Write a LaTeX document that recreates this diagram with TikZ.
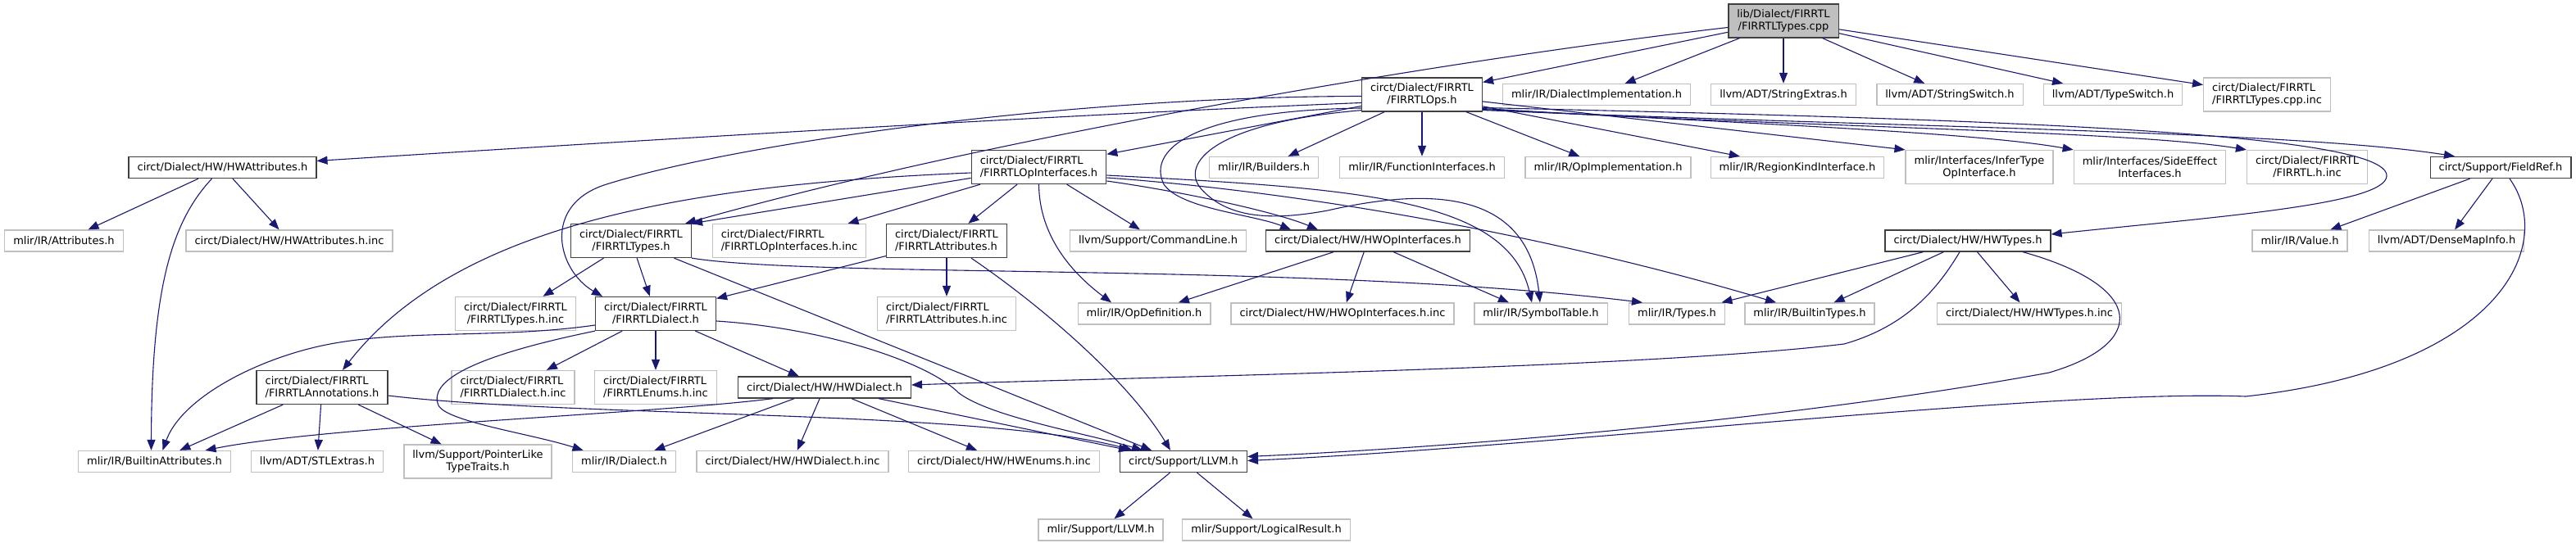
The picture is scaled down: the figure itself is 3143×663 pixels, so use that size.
\documentclass[tikz,border=0pt]{standalone}
\usepackage{fontspec}
\setmainfont{DejaVu Sans}
\usetikzlibrary{arrows.meta}
\definecolor{edgecol}{HTML}{191970}
\definecolor{graybd}{HTML}{BFBFBF}
\definecolor{darkbd}{HTML}{404040}
\definecolor{rootfill}{HTML}{BFBFBF}
\begin{document}
\begin{tikzpicture}[x=1pt,y=-1pt,
  box/.style={rectangle, draw, fill=white, line width=1.3pt, inner xsep=10.5pt, inner ysep=2pt,
    minimum height=26pt, font=\fontsize{13}{15}\selectfont, text=black},
  gnode/.style={box, draw=graybd},
  bnode/.style={box, draw=darkbd},
  rootnode/.style={box, draw=darkbd, fill=rootfill},
  two/.style={minimum height=41pt, align=center},
  twol/.style={minimum height=41pt, align=left},
  dep/.style={draw=edgecol, line width=1.1pt, -{Triangle[length=13pt,width=10pt]}}]
\useasboundingbox[fill=white] (0,0) rectangle (3143,663);

% row 0
\node[rootnode,two] (root) at (2176,25.5) {lib/Dialect/FIRRTL\\/FIRRTLTypes.cpp};
% row 1
\node[bnode,two] (ops) at (1735,115.5) {circt/Dialect/FIRRTL\\/FIRRTLOps.h};
\node[gnode] (dimpl) at (1948,115.5) {mlir/IR/DialectImplementation.h};
\node[gnode] (strext) at (2176,115.5) {llvm/ADT/StringExtras.h};
\node[gnode] (strsw) at (2379,115.5) {llvm/ADT/StringSwitch.h};
\node[gnode] (tysw) at (2578,115.5) {llvm/ADT/TypeSwitch.h};
\node[gnode,twol] (cppinc) at (2766,115.5) {circt/Dialect/FIRRTL\\/FIRRTLTypes.cpp.inc};
% row 2
\node[bnode] (hwattr) at (271.5,204.5) {circt/Dialect/HW/HWAttributes.h};
\node[bnode,twol] (opif) at (1267.5,204) {circt/Dialect/FIRRTL\\/FIRRTLOpInterfaces.h};
\node[gnode] (builders) at (1542,204.5) {mlir/IR/Builders.h};
\node[gnode] (funcif) at (1735,204.5) {mlir/IR/FunctionInterfaces.h};
\node[gnode] (opimpl) at (1962,204.5) {mlir/IR/OpImplementation.h};
\node[gnode] (regkind) at (2193,204.5) {mlir/IR/RegionKindInterface.h};
\node[gnode,two] (infer) at (2415,204) {mlir/Interfaces/InferType\\OpInterface.h};
\node[gnode,two] (sideeff) at (2623,204) {mlir/Interfaces/SideEffect\\Interfaces.h};
\node[gnode,two] (firrtlinc) at (2815,204) {circt/Dialect/FIRRTL\\/FIRRTL.h.inc};
\node[bnode] (fieldref) at (3051,204.5) {circt/Support/FieldRef.h};
% row 3
\node[gnode] (attrs) at (78,294) {mlir/IR/Attributes.h};
\node[gnode] (hwattrinc) at (353,294) {circt/Dialect/HW/HWAttributes.h.inc};
\node[bnode,two] (ftypes) at (770,294) {circt/Dialect/FIRRTL\\/FIRRTLTypes.h};
\node[gnode,twol] (opifinc) at (963,294) {circt/Dialect/FIRRTL\\/FIRRTLOpInterfaces.h.inc};
\node[bnode,twol] (fattrs) at (1155,294) {circt/Dialect/FIRRTL\\/FIRRTLAttributes.h};
\node[gnode] (cmdline) at (1413,294) {llvm/Support/CommandLine.h};
\node[bnode] (hwopif) at (1669,294) {circt/Dialect/HW/HWOpInterfaces.h};
\node[bnode] (hwtypes) at (2401,294) {circt/Dialect/HW/HWTypes.h};
\node[gnode] (value) at (2806,294) {mlir/IR/Value.h};
\node[gnode] (densemap) at (2985,294) {llvm/ADT/DenseMapInfo.h};
% row 4
\node[gnode,two] (ftypesinc) at (629,383) {circt/Dialect/FIRRTL\\/FIRRTLTypes.h.inc};
\node[bnode,two] (fdialect) at (800,383) {circt/Dialect/FIRRTL\\/FIRRTLDialect.h};
\node[gnode,twol] (fattrsinc) at (1155,383) {circt/Dialect/FIRRTL\\/FIRRTLAttributes.h.inc};
\node[gnode] (opdef) at (1396,383) {mlir/IR/OpDefinition.h};
\node[gnode] (hwopifinc) at (1638,383) {circt/Dialect/HW/HWOpInterfaces.h.inc};
\node[gnode] (symtab) at (1880,383) {mlir/IR/SymbolTable.h};
\node[gnode] (types) at (2046,383) {mlir/IR/Types.h};
\node[gnode] (btypes) at (2208,383) {mlir/IR/BuiltinTypes.h};
\node[gnode] (hwtypesinc) at (2476,383) {circt/Dialect/HW/HWTypes.h.inc};
% row 5
\node[bnode,twol] (annot) at (393,473) {circt/Dialect/FIRRTL\\/FIRRTLAnnotations.h};
\node[gnode,twol] (fdialinc) at (626,473) {circt/Dialect/FIRRTL\\/FIRRTLDialect.h.inc};
\node[gnode,twol] (fenums) at (800,473) {circt/Dialect/FIRRTL\\/FIRRTLEnums.h.inc};
\node[bnode] (hwdialect) at (1006,473) {circt/Dialect/HW/HWDialect.h};
% row 6
\node[gnode] (battrs) at (188.5,563.5) {mlir/IR/BuiltinAttributes.h};
\node[gnode] (stl) at (387,563.5) {llvm/ADT/STLExtras.h};
\node[gnode,two] (ptr) at (583,563.5) {llvm/Support/PointerLike\\TypeTraits.h};
\node[gnode] (dialect) at (761.5,563.5) {mlir/IR/Dialect.h};
\node[gnode] (hwdialinc) at (967,563.5) {circt/Dialect/HW/HWDialect.h.inc};
\node[gnode] (hwenums) at (1225,563.5) {circt/Dialect/HW/HWEnums.h.inc};
\node[bnode] (llvm) at (1444,563.5) {circt/Support/LLVM.h};
% row 7
\node[gnode] (mllvm) at (1343,647) {mlir/Support/LLVM.h};
\node[gnode] (logres) at (1545,647) {mlir/Support/LogicalResult.h};

% ---- edges from root
\draw[dep] (root) -- (ops);
\draw[dep] (root) -- (dimpl);
\draw[dep] (root) -- (strext);
\draw[dep] (root) -- (strsw);
\draw[dep] (root) -- (tysw);
\draw[dep] (root) -- (cppinc);
\draw[dep] ([yshift=-8pt]root.west) .. controls (1750,75) and (1200,170) .. ([xshift=-8pt]ftypes.north east);

% ---- edges from FIRRTLOps
\draw[dep] ([yshift=-10pt]ops.west) .. controls (1300,140) and (800,170) .. ([yshift=8pt]hwattr.east);
\draw[dep] ([yshift=-2pt]ops.west) .. controls (1300,118) and (900,175) .. (740,225)
   .. controls (660,250) and (680,330) .. ([xshift=-65pt]fdialect.north);
\draw[dep] (ops) -- (opif);
\draw[dep] (ops) -- (builders);
\draw[dep] (ops) -- (funcif);
\draw[dep] (ops) -- (opimpl);
\draw[dep] (ops) -- (regkind);
\draw[dep] (ops) -- (infer.north west);
\draw[dep] ([yshift=-17pt]ops.east) .. controls (2100,150) and (2400,160) .. (sideeff.north west);
\draw[dep] ([yshift=-18pt]ops.east) .. controls (2200,155) and (2600,160) .. (firrtlinc.north west);
\draw[dep] ([yshift=-19pt]ops.east) .. controls (2300,155) and (2800,160) .. ([xshift=-56pt]fieldref.north);
\draw[dep] ([yshift=-16pt]ops.east) .. controls (2400,145) and (2915,160) .. (2912,215)
   .. controls (2910,250) and (2700,265) .. ([yshift=8pt]hwtypes.east);
\draw[dep] ([yshift=-16.5pt]ops.west) .. controls (1450,135) and (1400,185) .. (1420,225)
   .. controls (1440,255) and (1530,262) .. ([xshift=-94pt]hwopif.north);
\draw[dep] ([yshift=2pt]ops.south west) .. controls (1480,150) and (1440,200) .. (1465,230)
   .. controls (1500,270) and (1560,268) .. (1620,257)
   .. controls (1760,225) and (1865,240) .. ([xshift=-1pt]symtab.north);

% ---- edges from FIRRTLOpInterfaces
\draw[dep] ([yshift=-7pt]opif.west) .. controls (850,225) and (560,270) .. ([xshift=25pt]annot.north);
\draw[dep] (opif) -- (ftypes.north east);
\draw[dep] (opif) -- (opifinc);
\draw[dep] (opif) -- (fattrs);
\draw[dep] (opif.south) .. controls (1268,290) and (1310,335) .. ([xshift=-40pt]opdef.north);
\draw[dep] (opif) -- (cmdline);
\draw[dep] ([yshift=-10pt]opif.east) .. controls (1650,230) and (1840,240) .. ([xshift=-11pt]symtab.north);
\draw[dep] ([yshift=-13pt]opif.east) .. controls (1600,235) and (1900,290) .. ([xshift=-41pt]btypes.north);
\draw[dep] ([yshift=-17pt]opif.east) .. controls (1450,235) and (1560,260) .. ([xshift=-61pt]hwopif.north);

% ---- HWAttributes
\draw[dep] (hwattr) -- (attrs);
\draw[dep] (hwattr) -- (hwattrinc);
\draw[dep] ([xshift=-13pt]hwattr.south) .. controls (210,270) and (185,350) .. ([xshift=-4pt]battrs.north);

% ---- FIRRTLTypes.h
\draw[dep] (ftypes) -- (ftypesinc);
\draw[dep] (ftypes) -- (fdialect);
\draw[dep] (ftypes.south east) .. controls (1000,340) and (1600,320) .. ([xshift=-42pt]types.north);
\draw[dep] (ftypes) -- ([xshift=-39pt]llvm.north);

% ---- FIRRTLAttributes.h
\draw[dep] (fattrs) -- (fdialect);
\draw[dep] (fattrs) -- (fattrsinc);
\draw[dep] ([xshift=30pt]fattrs.south) .. controls (1280,380) and (1380,470) .. ([xshift=-16pt]llvm.north);

% ---- FIRRTLDialect.h
\draw[dep] ([yshift=-14pt]fdialect.west) .. controls (600,415) and (480,400) .. (380,425)
   .. controls (300,445) and (220,490) .. ([xshift=10pt]battrs.north);
\draw[dep] (fdialect.south west) .. controls (600,430) and (520,460) .. (535,495)
   .. controls (545,515) and (650,530) .. ([xshift=-50pt]dialect.north);
\draw[dep] (fdialect) -- (fdialinc);
\draw[dep] (fdialect) -- (fenums);
\draw[dep] (fdialect) -- (hwdialect);
\draw[dep] ([yshift=-9pt]fdialect.east) .. controls (1000,400) and (1130,440) .. (1170,480)
   .. controls (1210,510) and (1330,530) .. ([xshift=-50pt]llvm.north);

% ---- HWDialect.h
\draw[dep] ([xshift=43pt]hwdialect.south west) .. controls (800,505) and (400,520) .. ([xshift=62pt]battrs.north);
\draw[dep] (hwdialect) -- (dialect);
\draw[dep] (hwdialect) -- (hwdialinc);
\draw[dep] (hwdialect) -- (hwenums);
\draw[dep] (hwdialect) -- (llvm);

% ---- FIRRTLAnnotations.h
\draw[dep] (annot) -- (battrs);
\draw[dep] (annot) -- (stl);
\draw[dep] (annot) -- (ptr);
\draw[dep] ([yshift=-10pt]annot.east) .. controls (700,510) and (1200,500) .. ([xshift=-62pt]llvm.north);

% ---- HWTypes.h
\draw[dep] (hwtypes) -- (types);
\draw[dep] (hwtypes) -- (btypes);
\draw[dep] (hwtypes) -- (hwtypesinc);
\draw[dep] ([xshift=-10pt]hwtypes.south) .. controls (2360,360) and (2320,400) .. (2250,420)
   .. controls (2000,450) and (1400,460) .. ([yshift=3pt]hwdialect.east);
\draw[dep] ([xshift=67pt]hwtypes.south) .. controls (2620,350) and (2620,420) .. (2500,455)
   .. controls (2200,510) and (1800,545) .. ([yshift=6pt]llvm.east);

% ---- FieldRef.h
\draw[dep] (fieldref) -- (value);
\draw[dep] (fieldref) -- (densemap);
\draw[dep] ([xshift=11pt]fieldref.south) .. controls (3120,300) and (3050,450) .. (2740,484)
   .. controls (2500,475) and (1900,545) .. ([yshift=1pt]llvm.east);

% ---- HWOpInterfaces.h
\draw[dep] (hwopif) -- (opdef);
\draw[dep] (hwopif) -- (hwopifinc);
\draw[dep] (hwopif) -- ([xshift=-39pt]symtab.north);

% ---- LLVM.h
\draw[dep] (llvm) -- (mllvm);
\draw[dep] (llvm) -- (logres);
\end{tikzpicture}
\end{document}
